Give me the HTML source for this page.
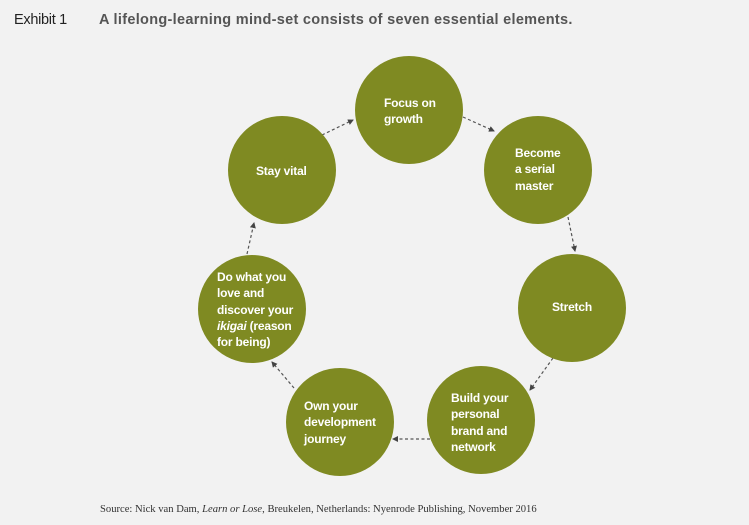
<!DOCTYPE html>
<html><head><style>
body{margin:0;background:#f2f2f2;width:749px;height:525px;overflow:hidden;position:relative;font-family:"Liberation Sans",Arial,sans-serif}
.t{position:absolute;white-space:nowrap}
.c{position:absolute;width:108px;height:108px;border-radius:50%;background:#7f8a22}
.l{position:absolute;color:#fff;font-weight:bold;font-size:12px;line-height:16.3px;white-space:nowrap;letter-spacing:-0.2px}
</style></head><body>
<div class="t" style="left:14px;top:12px;font-size:14.5px;color:#222;letter-spacing:-0.3px">Exhibit 1</div>
<div class="t" style="left:99px;top:12px;font-size:14.5px;font-weight:bold;color:#555;letter-spacing:0.3px">A lifelong-learning mind-set consists of seven essential elements.</div>
<svg style="position:absolute;left:0;top:0" width="749" height="525">
<defs><marker id="a" markerWidth="6" markerHeight="6" refX="5" refY="3" orient="auto" markerUnits="userSpaceOnUse"><path d="M0,0 L6,3 L0,6 z" fill="#444"/></marker></defs>
<g stroke="#555" stroke-width="1.2" stroke-dasharray="3,2.5" fill="none" marker-end="url(#a)">
<line x1="322" y1="135" x2="353" y2="120"/>
<line x1="463" y1="117" x2="494" y2="131"/>
<line x1="568" y1="217" x2="575" y2="251"/>
<line x1="553" y1="358" x2="530" y2="390"/>
<line x1="430" y1="439" x2="393" y2="439"/>
<line x1="294" y1="388" x2="272" y2="362"/>
<line x1="247" y1="254" x2="254" y2="223"/>
</g></svg>
<div class="c" style="left:355px;top:56px"></div>
<div class="c" style="left:228px;top:116px"></div>
<div class="c" style="left:484px;top:116px"></div>
<div class="c" style="left:198px;top:255px"></div>
<div class="c" style="left:518px;top:254px"></div>
<div class="c" style="left:286px;top:368px"></div>
<div class="c" style="left:427px;top:366px"></div>
<div class="l" style="left:384px;top:95px">Focus on<br>growth</div>
<div class="l" style="left:256px;top:163px">Stay vital</div>
<div class="l" style="left:515px;top:145px">Become<br>a serial<br>master</div>
<div class="l" style="left:217px;top:269px">Do what you<br>love and<br>discover your<br><i>ikigai</i> (reason<br>for being)</div>
<div class="l" style="left:552px;top:299px">Stretch</div>
<div class="l" style="left:304px;top:398px">Own your<br>development<br>journey</div>
<div class="l" style="left:451px;top:390px">Build your<br>personal<br>brand and<br>network</div>
<div class="t" style="left:100px;top:504px;font-family:'Liberation Serif',serif;font-size:10.6px;color:#333">Source: Nick van Dam, <i>Learn or Lose</i>, Breukelen, Netherlands: Nyenrode Publishing, November 2016</div>
</body></html>
